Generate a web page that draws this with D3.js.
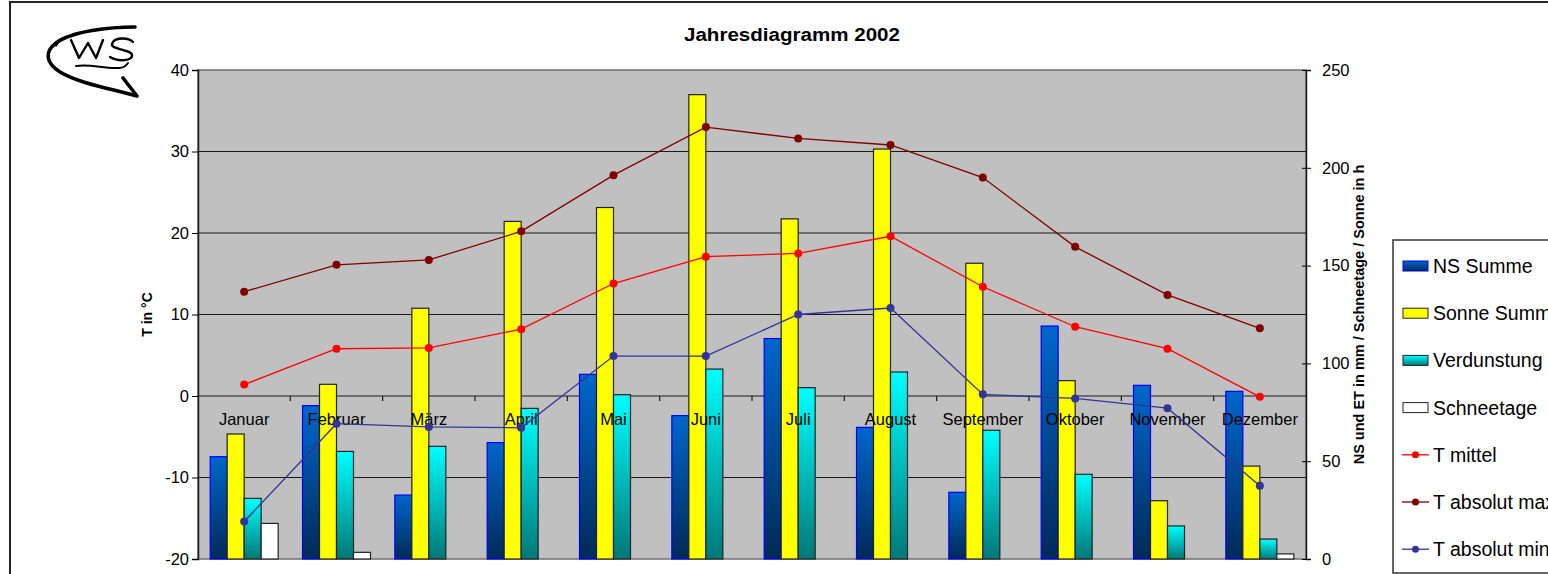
<!DOCTYPE html>
<html lang="de">
<head>
    <meta charset="UTF-8">
    <script src="https://d3js.org/d3.v7.min.js"></script>
    <style>
        body { margin: 0; background: white; }
        text { font-family: "Liberation Sans", Arial, sans-serif; }
    </style>
</head>
<body>
    <svg id="chart" width="1548" height="574"></svg>

    <script>
        // Werte
        const monate = ["Januar", "Februar", "März", "April", "Mai", "Juni", "Juli", "August", "September", "Oktober", "November", "Dezember"];
        const nsSumme = [52.3, 78.4, 32.7, 59.5, 94.4, 73.3, 112.7, 67.3, 34.1, 119.1, 88.8, 85.7];
        const sonneSumme = [63.9, 89.3, 128.2, 172.6, 179.7, 237.4, 173.9, 209.6, 151.2, 91.2, 29.8, 47.5];
        const verdunstung = [31.0, 55.0, 57.6, 77.0, 84.0, 97.1, 87.6, 95.6, 65.8, 43.3, 16.9, 10.2];
        const schneetage = [18.2, 3.4, 0, 0, 0, 0, 0, 0, 0, 0, 0, 2.6];
        const tMittel = [1.4, 5.8, 5.9, 8.2, 13.8, 17.1, 17.5, 19.6, 13.4, 8.5, 5.8, -0.1];
        const tMax = [12.8, 16.1, 16.7, 20.2, 27.1, 33.0, 31.6, 30.8, 26.8, 18.3, 12.4, 8.3];
        const tMin = [-15.4, -3.4, -3.8, -3.9, 4.9, 4.9, 10.0, 10.8, 0.2, -0.3, -1.5, -11.0];
        const tTicks = [-20, -10, 0, 10, 20, 30, 40];
        const rTicks = [0, 50, 100, 150, 200, 250];

        const svg = d3.select("#chart");
        const plot = { left: 198, right: 1306, top: 70, bottom: 559 };

        // Rahmen um das ganze Diagramm
        svg.append("rect")
            .attr("x", 10).attr("y", 2)
            .attr("width", 1600).attr("height", 600)
            .attr("fill", "white").attr("stroke", "#222").attr("stroke-width", 2);

        const defs = svg.append("defs");
        const gradNS = defs.append("linearGradient").attr("id", "gradNS").attr("x1", 0).attr("y1", 0).attr("x2", 0).attr("y2", 1);
        gradNS.append("stop").attr("offset", "0%").attr("stop-color", "#0066cc");
        gradNS.append("stop").attr("offset", "100%").attr("stop-color", "#002a58");
        const gradV = defs.append("linearGradient").attr("id", "gradV").attr("x1", 0).attr("y1", 0).attr("x2", 0).attr("y2", 1);
        gradV.append("stop").attr("offset", "0%").attr("stop-color", "#00ffff");
        gradV.append("stop").attr("offset", "100%").attr("stop-color", "#007878");

        const x0 = d3.scaleBand().domain(monate).range([plot.left, plot.right]).paddingInner(0).paddingOuter(0);
        const balken = ["ns", "sonne", "verd", "schnee"];
        const x1 = d3.scaleBand().domain(balken).range([0, x0.bandwidth()]).paddingInner(0).paddingOuter(0.716);
        const yL = d3.scaleLinear().domain([-20, 40]).range([plot.bottom, plot.top]);
        const yR = d3.scaleLinear().domain([0, 250]).range([plot.bottom, plot.top]);

        // Plotfläche
        svg.append("rect")
            .attr("x", plot.left).attr("y", plot.top)
            .attr("width", plot.right - plot.left).attr("height", plot.bottom - plot.top)
            .attr("fill", "#c0c0c0").attr("stroke", "#707070").attr("stroke-width", 1.5);

        // Gitterlinien
        svg.append("g").selectAll("line")
            .data(tTicks.filter(d => d > -20 && d < 40))
            .enter().append("line")
            .attr("x1", plot.left).attr("x2", plot.right)
            .attr("y1", d => yL(d)).attr("y2", d => yL(d))
            .attr("stroke", "#1a1a1a").attr("stroke-width", 1.2);

        // Kategorie-Ticks auf der 0-Linie
        svg.append("g").selectAll("line")
            .data(monate.slice(1))
            .enter().append("line")
            .attr("x1", d => x0(d)).attr("x2", d => x0(d))
            .attr("y1", yL(0)).attr("y2", yL(0) + 5)
            .attr("stroke", "#1a1a1a").attr("stroke-width", 1.2);

        // Balken
        const serien = [
            { key: "ns", werte: nsSumme, fill: "url(#gradNS)", stroke: "#0000ff" },
            { key: "sonne", werte: sonneSumme, fill: "#ffff00", stroke: "#222" },
            { key: "verd", werte: verdunstung, fill: "url(#gradV)", stroke: "#222" },
            { key: "schnee", werte: schneetage, fill: "#ffffff", stroke: "#222" }
        ];
        serien.forEach(s => {
            svg.append("g").selectAll("rect")
                .data(s.werte.map((v, i) => ({ m: monate[i], v })).filter(d => d.v > 0))
                .enter().append("rect")
                .attr("x", d => x0(d.m) + x1(s.key))
                .attr("y", d => yR(d.v))
                .attr("width", x1.bandwidth())
                .attr("height", d => yR(0) - yR(d.v))
                .attr("fill", s.fill)
                .attr("stroke", s.stroke)
                .attr("stroke-width", 1.2);
        });

        // Achsen
        const axL = svg.append("g")
            .attr("transform", `translate(${plot.left},0)`)
            .call(d3.axisLeft(yL).tickValues(tTicks).tickSize(6).tickPadding(3).tickFormat(d => String(d)));
        axL.select(".domain").attr("stroke", "#1a1a1a").attr("stroke-width", 1.5);
        axL.selectAll("text").style("font-size", "16.5px").attr("fill", "#000");

        const axR = svg.append("g")
            .attr("transform", `translate(${plot.right},0)`)
            .call(d3.axisRight(yR).tickValues(rTicks).tickSize(5).tickPadding(11));
        axR.select(".domain").attr("stroke", "#1a1a1a").attr("stroke-width", 1.5);
        axR.selectAll(".tick line").attr("x1", -4);
        axR.selectAll("text").style("font-size", "16.5px").attr("fill", "#000");

        const axX = svg.append("g")
            .attr("transform", `translate(0,${yL(0)})`)
            .call(d3.axisBottom(x0).tickSize(0).tickPadding(17));
        axX.select(".domain").remove();
        axX.selectAll("text").style("font-size", "16.5px").attr("fill", "#000");

        // Linien
        const linien = [
            { name: "T mittel", werte: tMittel, farbe: "#ff0000" },
            { name: "T absolut max", werte: tMax, farbe: "#800000" },
            { name: "T absolut min", werte: tMin, farbe: "#333399" }
        ];
        const cx = i => x0(monate[i]) + x0.bandwidth() / 2;
        const line = d3.line().x((d, i) => cx(i)).y(d => yL(d));
        linien.forEach(l => {
            svg.append("path")
                .attr("d", line(l.werte))
                .attr("fill", "none")
                .attr("stroke", l.farbe)
                .attr("stroke-width", 1.3);
            svg.append("g").selectAll("circle")
                .data(l.werte)
                .enter().append("circle")
                .attr("cx", (d, i) => cx(i))
                .attr("cy", d => yL(d))
                .attr("r", 4)
                .attr("fill", l.farbe);
        });

        // Titel und Achsentitel
        svg.append("text")
            .attr("x", 792).attr("y", 41)
            .attr("text-anchor", "middle")
            .style("font-size", "18px").style("font-weight", "bold")
            .attr("textLength", 216).attr("lengthAdjust", "spacingAndGlyphs")
            .text("Jahresdiagramm 2002");

        svg.append("text")
            .attr("transform", `translate(152,${(plot.top + plot.bottom) / 2}) rotate(-90)`)
            .attr("text-anchor", "middle")
            .style("font-size", "14px").style("font-weight", "bold")
            .text("T in °C");

        svg.append("text")
            .attr("transform", `translate(1364,${(plot.top + plot.bottom) / 2}) rotate(-90)`)
            .attr("text-anchor", "middle")
            .style("font-size", "14.5px").style("font-weight", "bold")
            .text("NS und ET in mm / Schneetage / Sonne in h");

        // Legende (läuft wie im Original rechts aus dem Bild)
        const leg = svg.append("g").attr("transform", "translate(1393,240)");
        leg.append("rect")
            .attr("width", 200).attr("height", 333)
            .attr("fill", "white").attr("stroke", "#333").attr("stroke-width", 1.5);
        const legEintraege = [
            { name: "NS Summe", typ: "bar", fill: "url(#gradNS)", stroke: "#0000ff" },
            { name: "Sonne Summe", typ: "bar", fill: "#ffff00", stroke: "#222" },
            { name: "Verdunstung", typ: "bar", fill: "url(#gradV)", stroke: "#222" },
            { name: "Schneetage", typ: "bar", fill: "#ffffff", stroke: "#222" },
            ...linien.map(l => ({ name: l.name, typ: "line", farbe: l.farbe }))
        ];
        legEintraege.forEach((e, i) => {
            const g = leg.append("g").attr("transform", `translate(0,${26 + i * 47.2})`);
            if (e.typ === "bar") {
                g.append("rect").attr("x", 10).attr("y", -5).attr("width", 25).attr("height", 10)
                    .attr("fill", e.fill).attr("stroke", e.stroke).attr("stroke-width", 1);
            } else {
                g.append("line").attr("x1", 9).attr("x2", 36).attr("y1", 0).attr("y2", 0)
                    .attr("stroke", e.farbe).attr("stroke-width", 1.3);
                g.append("circle").attr("cx", 22.5).attr("cy", 0).attr("r", 3.5).attr("fill", e.farbe);
            }
            g.append("text").attr("x", 40).attr("y", 7)
                .style("font-size", "19.5px")
                .text(e.name);
        });

        // Logo "WS"
        const logo = svg.append("g").attr("fill", "none").attr("stroke", "#000")
            .attr("stroke-linecap", "round").attr("stroke-linejoin", "round");
        logo.append("path")
            .attr("d", "M135,27 C110,27 72,31 56,43 C44,52 46,63 60,72 C78,83 112,89 137,96 L123,78")
            .attr("stroke-width", 3.6);
        logo.append("path")
            .attr("d", "M56,45 C58,41 61,39 65,38")
            .attr("stroke-width", 2.8);
        logo.append("path")
            .attr("d", "M71,40 L79,58 L88,43 L96,58 L103,40")
            .attr("stroke-width", 2.4);
        logo.append("path")
            .attr("d", "M133,42 C128,37 114,37 112,44 C111,50 131,49 132,55 C133,61 118,62 110,57")
            .attr("stroke-width", 2.4);
        logo.append("path")
            .attr("d", "M76,66 C92,64 104,69 119,68 C123,68 126,66 128,63")
            .attr("stroke-width", 2);
    </script>
</body>
</html>
